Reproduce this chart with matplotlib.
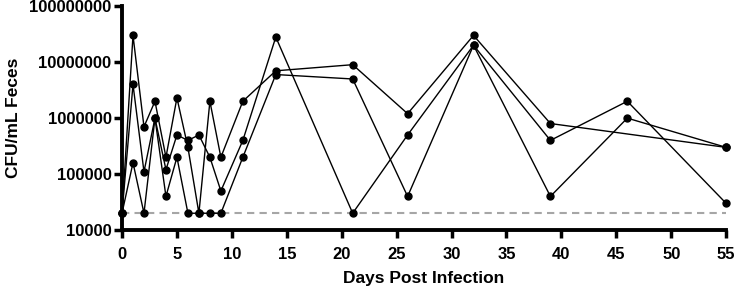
import matplotlib
matplotlib.use("Agg")
from matplotlib import pyplot as plt
from matplotlib.ticker import FixedLocator, FixedFormatter, NullLocator

plt.rcParams['font.family'] = ['Liberation Sans', 'DejaVu Sans']
plt.rcParams['font.weight'] = 'bold'

days_1 = [0, 1, 2, 3, 4, 5, 6, 7, 8, 9, 11, 14, 21, 26, 32, 39, 55]
cfu_1 = [2e4, 3e7, 7e5, 2e6, 2e5, 2.3e6, 3e5, 2e4, 2e6, 2e5, 2e6, 7e6, 9e6, 1.2e6, 3e7, 8e5, 3e5]

days_2 = [0, 1, 2, 3, 4, 5, 6, 7, 8, 9, 11, 14, 21, 26, 32, 39, 46, 55]
cfu_2 = [2e4, 1.6e5, 2e4, 1e6, 4e4, 2e5, 2e4, 2e4, 2e4, 2e4, 2e5, 6e6, 5e6, 4e4, 2e7, 4e4, 1e6, 3e5]

days_3 = [0, 1, 2, 3, 4, 5, 6, 7, 8, 9, 11, 14, 21, 26, 32, 39, 46, 55]
cfu_3 = [2e4, 4e6, 1.1e5, 1e6, 1.2e5, 5e5, 4e5, 5e5, 2e5, 5e4, 4e5, 2.8e7, 2e4, 5e5, 2e7, 4e5, 2e6, 3e4]

limit = 2e4
x_ticks = [0, 5, 10, 15, 20, 25, 30, 35, 40, 45, 50, 55]
y_ticks = [1e4, 1e5, 1e6, 1e7, 1e8]
y_labels = ["10000", "100000", "1000000", "10000000", "100000000"]

fig = plt.figure(figsize=(7.35, 2.92), dpi=100)
ax = fig.add_axes([0.166, 0.212, 0.822, 0.767])

ax.plot([0, 55], [limit, limit], color="#a6a6a6", linestyle=(0, (3.5, 2.5)), linewidth=1.5, zorder=1)

for d, c in [(days_1, cfu_1), (days_2, cfu_2), (days_3, cfu_3)]:
    ax.plot(d, c, color="black", linewidth=1.0, marker="o", markersize=5, clip_on=False, zorder=3)

ax.set_yscale("log")
ax.set_xlim(0, 55)
ax.set_ylim(1e4, 1e8)
ax.yaxis.set_major_locator(FixedLocator(y_ticks))
ax.yaxis.set_major_formatter(FixedFormatter(y_labels))
ax.yaxis.set_minor_locator(NullLocator())
ax.set_xticks(x_ticks)

for side in ["top", "right"]:
    ax.spines[side].set_visible(False)
for side in ["left", "bottom"]:
    ax.spines[side].set_linewidth(2.8)

ax.tick_params(axis="both", width=2.5, length=6, labelsize=12)
ax.tick_params(axis="y", pad=1.5)
ax.tick_params(axis="x", pad=6)
ax.set_xlabel("Days Post Infection", fontsize=12.5, fontweight="bold", labelpad=7)
ax.set_ylabel("CFU/mL Feces", fontsize=12.5, fontweight="bold", labelpad=6)

fig.savefig("out.png", dpi=100)
